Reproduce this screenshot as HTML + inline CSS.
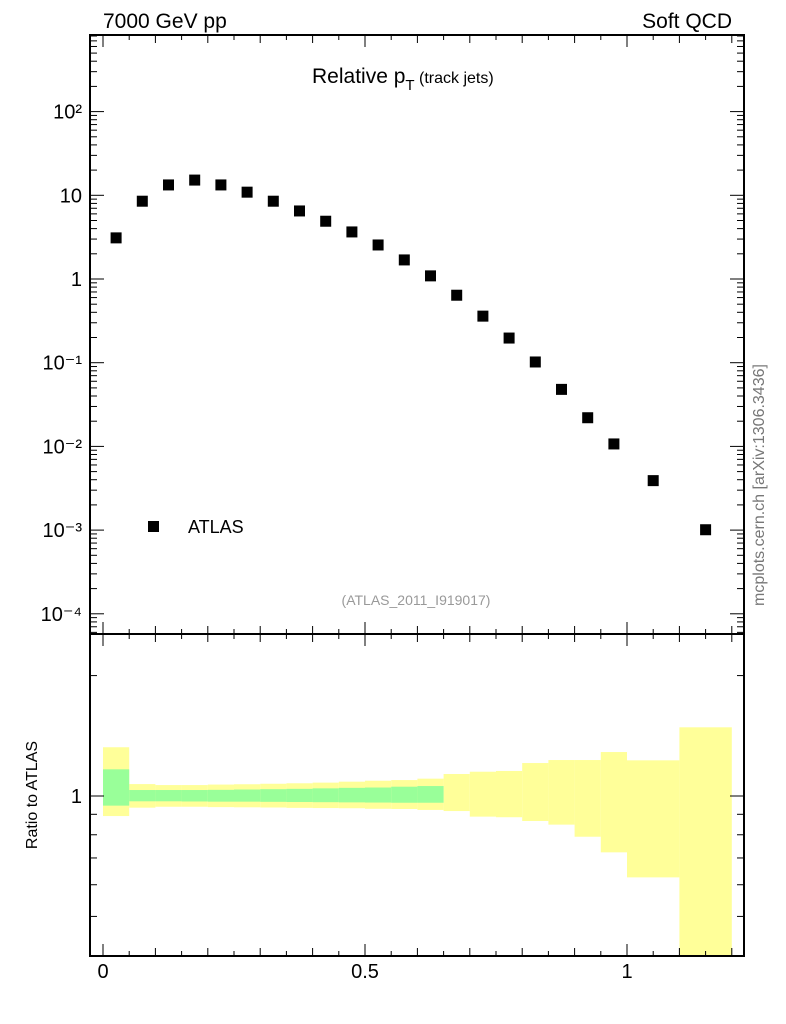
<!DOCTYPE html>
<html><head><meta charset="utf-8"><style>
body{margin:0;background:#fff;}
svg{display:block;font-family:"Liberation Sans",sans-serif;}
</style></head><body>
<svg id="c" width="786" height="1024" xmlns="http://www.w3.org/2000/svg"></svg>
<script>
const xCenters=[0.025,0.075,0.125,0.175,0.225,0.275,0.325,0.375,0.425,0.475,0.525,0.575,0.625,0.675,0.725,0.775,0.825,0.875,0.925,0.975,1.05,1.15];
const yValues=[3.1,8.5,13.3,15.2,13.3,10.9,8.5,6.5,4.9,3.65,2.55,1.69,1.09,0.64,0.36,0.197,0.102,0.048,0.022,0.0107,0.0039,0.00101];
const binLo=[0,0.05,0.1,0.15,0.2,0.25,0.3,0.35,0.4,0.45,0.5,0.55,0.6,0.65,0.7,0.75,0.8,0.85,0.9,0.95,1.0,1.1];
const binHi=[0.05,0.1,0.15,0.2,0.25,0.3,0.35,0.4,0.45,0.5,0.55,0.6,0.65,0.7,0.75,0.8,0.85,0.9,0.95,1.0,1.1,1.2];
const yellowUp=[1.324,1.071,1.065,1.065,1.068,1.07,1.073,1.076,1.08,1.086,1.092,1.096,1.105,1.135,1.15,1.155,1.209,1.23,1.23,1.288,1.228,1.485];
const yellowDn=[0.891,0.935,0.94,0.94,0.938,0.937,0.936,0.934,0.933,0.932,0.929,0.928,0.923,0.917,0.888,0.885,0.866,0.848,0.791,0.723,0.626,0.35];
const greenUp=[1.166,1.035,1.035,1.035,1.036,1.038,1.04,1.042,1.045,1.048,1.05,1.055,1.059];
const greenDn=[0.946,0.97,0.97,0.969,0.968,0.968,0.967,0.966,0.965,0.964,0.963,0.962,0.962];
const yTickLabels=["10\u207b\u2074","10\u207b\u00b3","10\u207b\u00b2","10\u207b\u00b9","1","10","10\u00b2"];
const xTickLabels=["0","0.5","1"];

const NS="http://www.w3.org/2000/svg";
const svg=document.getElementById('c');
const L=90,R=744,T=35,M=634,B=956;
const X=v=>103+v*524;
const Y=v=>279-Math.log10(v)*83.7;
const RY=v=>796-Math.log10(v)*400;
function el(tag,attrs,parent){const e=document.createElementNS(NS,tag);for(const k in attrs)e.setAttribute(k,attrs[k]);(parent||svg).appendChild(e);return e;}
function txt(s,attrs){const e=el('text',attrs);e.textContent=s;return e;}

// ratio bands
const bands=el('g',{});


for(let i=0;i<binLo.length;i++){
  const y1=Math.max(RY(yellowUp[i]),M),y2=Math.min(RY(yellowDn[i]),B);
  const r=el('rect',{x:X(binLo[i]),y:y1,width:X(binHi[i])-X(binLo[i]),height:y2-y1,fill:'#ffff99'},bands);
  
  
}
for(let i=0;i<greenUp.length;i++){
  const y1=RY(greenUp[i]),y2=RY(greenDn[i]);
  const r=el('rect',{x:X(binLo[i]),y:y1,width:X(binHi[i])-X(binLo[i]),height:y2-y1,fill:'#99ff99'},bands);
  
  
}

// frames
const f1=el('rect',{x:L,y:T,width:R-L,height:M-T,fill:'none',stroke:'#000','stroke-width':2});


const f2=el('rect',{x:L,y:M,width:R-L,height:B-M,fill:'none',stroke:'#000','stroke-width':2});



// x ticks
const tk=el('g',{stroke:'#000','stroke-width':1});


for(let k=0;k<=24;k++){
  const v=k*0.05,x=X(v);
  const len=(k%10===0)?12:(k%2===0?8:5);
  [[M,-1],[T,1],[B,-1]].forEach(([y0,d])=>el('line',{x1:x,x2:x,y1:y0,y2:y0+d*len},tk));
  el('line',{x1:x,x2:x,y1:M,y2:M+len},tk);
}
// y log ticks
for(let e=-5;e<=3;e++){
  for(let m=1;m<10;m++){
    const v=m*Math.pow(10,e),y=Y(v);
    if(y<T||y>M)continue;
    const len=m===1?14:7;
    el('line',{x1:L,x2:L+len,y1:y,y2:y},tk);
    el('line',{x1:R,x2:R-len,y1:y,y2:y},tk);
  }
}
// ratio ticks
[0.5,0.6,0.7,0.8,0.9,1,2].forEach(v=>{
  const y=RY(v),len=v===1?14:7;
  el('line',{x1:L,x2:L+len,y1:y,y2:y},tk);
  el('line',{x1:R,x2:R-len,y1:y,y2:y},tk);
});

// y tick labels
yTickLabels.forEach((s,i)=>{
  const t=txt(s,{x:82,y:Y(Math.pow(10,i-4))+7,'font-size':20,'text-anchor':'end'});
  
  
});
const r1=txt('1',{x:82,y:RY(1)+7,'font-size':20,'text-anchor':'end'});


xTickLabels.forEach((s,i)=>{
  const t=txt(s,{x:X(i*0.5),y:978,'font-size':20,'text-anchor':'middle'});
  
  
});

// points
const pts=el('g',{});


xCenters.forEach((x,i)=>{
  const r=el('rect',{x:X(x)-5.5,y:Y(yValues[i])-5.5,width:11,height:11,fill:'#000'},pts);
  
  
});
</script>
<svg style="position:absolute;left:0;top:0" width="786" height="1024" xmlns="http://www.w3.org/2000/svg">
<text x="103" y="28" font-size="21" font-family="Liberation Sans,sans-serif">7000 GeV pp</text>
<text x="732" y="28" font-size="21" text-anchor="end" font-family="Liberation Sans,sans-serif">Soft QCD</text>
<text x="312" y="83" font-size="21" font-family="Liberation Sans,sans-serif">Relative p<tspan font-size="15" dy="7">T</tspan><tspan font-size="16" dy="-7"> (track jets)</tspan></text>
<rect x="148" y="521" width="11" height="11" fill="#000"/>
<text x="188" y="533" font-size="18" font-family="Liberation Sans,sans-serif">ATLAS</text>
<text x="416" y="605" font-size="14" fill="#999" text-anchor="middle" font-family="Liberation Sans,sans-serif">(ATLAS_2011_I919017)</text>
<text transform="translate(764,485) rotate(-90)" font-size="16" fill="#777" text-anchor="middle" font-family="Liberation Sans,sans-serif">mcplots.cern.ch [arXiv:1306.3436]</text>
<text transform="translate(37,795) rotate(-90)" font-size="16" text-anchor="middle" font-family="Liberation Sans,sans-serif">Ratio to ATLAS</text>
</svg>
</body></html>
